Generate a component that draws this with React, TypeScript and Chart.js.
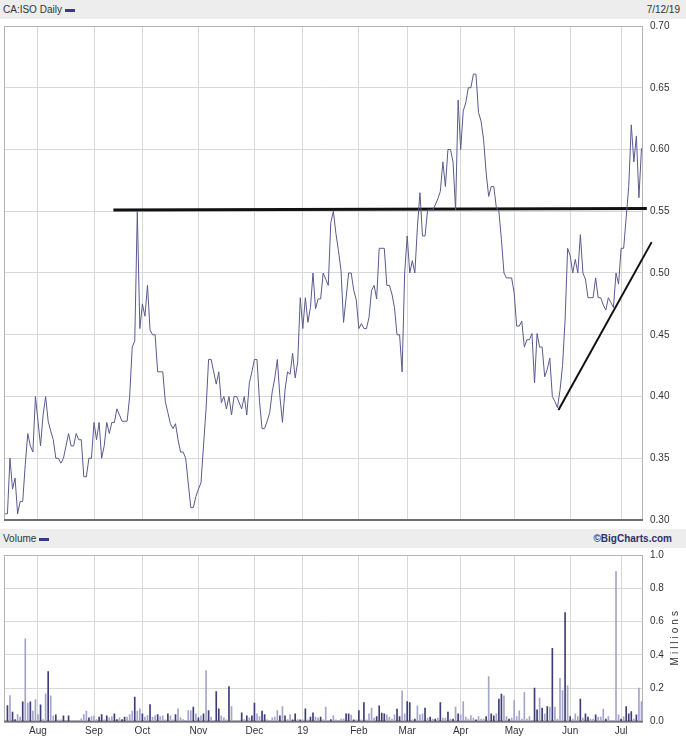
import React, { useEffect, useRef } from "react";
import { Chart, registerables } from "chart.js";
Chart.register(...registerables);

// ---- data ----
const monthTicks = [13, 35, 54, 76, 98, 117, 139, 158, 179, 200, 222, 242];
const monthLabels = ["Aug", "Sep", "Oct", "Nov", "Dec", "19", "Feb", "Mar", "Apr", "May", "Jun", "Jul"];
const priceTicks = [0.3, 0.35, 0.4, 0.45, 0.5, 0.55, 0.6, 0.65, 0.7];
const volumeTicks = [0, 0.2, 0.4, 0.6, 0.8, 1.0];

const prices = [
  0.305, 0.305, 0.35, 0.325, 0.334, 0.305, 0.315, 0.315, 0.345, 0.37,
  0.36, 0.355, 0.4, 0.38, 0.36, 0.385, 0.4, 0.38, 0.372, 0.365,
  0.35, 0.35, 0.346, 0.35, 0.36, 0.37, 0.36, 0.36, 0.37, 0.365,
  0.365, 0.335, 0.335, 0.35, 0.35, 0.379, 0.365, 0.379, 0.35, 0.36,
  0.379, 0.37, 0.379, 0.379, 0.39, 0.385, 0.38, 0.38, 0.38, 0.4,
  0.44, 0.445, 0.55, 0.455, 0.475, 0.465, 0.49, 0.454, 0.45, 0.45,
  0.42, 0.42, 0.42, 0.396, 0.387, 0.378, 0.374, 0.378, 0.365, 0.355,
  0.355, 0.35, 0.33, 0.31, 0.31, 0.319, 0.325, 0.33, 0.36, 0.39,
  0.43, 0.43, 0.42, 0.41, 0.42, 0.395, 0.4, 0.39, 0.4, 0.385,
  0.4, 0.4, 0.395, 0.39, 0.4, 0.385, 0.411, 0.42, 0.43, 0.43,
  0.396, 0.374, 0.374, 0.38, 0.387, 0.404, 0.415, 0.43, 0.4, 0.379,
  0.405, 0.42, 0.418, 0.435, 0.415, 0.428, 0.48, 0.455, 0.48, 0.46,
  0.472, 0.5, 0.471, 0.479, 0.479, 0.5, 0.495, 0.49, 0.541, 0.55,
  0.532, 0.518, 0.502, 0.46, 0.48, 0.5, 0.5, 0.486, 0.478, 0.455,
  0.459, 0.455, 0.455, 0.464, 0.486, 0.49, 0.479, 0.52, 0.52, 0.52,
  0.49, 0.49, 0.483, 0.472, 0.45, 0.45, 0.42, 0.5, 0.53, 0.5,
  0.51, 0.5, 0.537, 0.565, 0.53, 0.53, 0.551, 0.551, 0.551, 0.555,
  0.56, 0.566, 0.59, 0.57, 0.6, 0.6, 0.59, 0.551, 0.64, 0.6,
  0.631, 0.638, 0.65, 0.65, 0.661, 0.661, 0.63, 0.623, 0.608, 0.581,
  0.562, 0.57, 0.57, 0.553, 0.55, 0.527, 0.5, 0.496, 0.496, 0.496,
  0.484, 0.457, 0.457, 0.461, 0.44, 0.446, 0.446, 0.451, 0.411, 0.451,
  0.44, 0.44, 0.416, 0.422, 0.431, 0.4, 0.396, 0.391, 0.405, 0.425,
  0.462, 0.52, 0.514, 0.5, 0.511, 0.5, 0.531, 0.5, 0.495, 0.48,
  0.48, 0.48, 0.496, 0.48, 0.48, 0.474, 0.47, 0.48, 0.476, 0.472,
  0.5, 0.491, 0.52, 0.52, 0.545, 0.57, 0.62, 0.59, 0.611, 0.561,
  0.601,
];

const volumes = [
  0.004, 0.096, 0.156, 0.056, 0.012, 0.042, 0.026, 0.118, 0.496, 0.11,
  0.118, 0.062, 0.132, 0.042, 0.1, 0.012, 0.166, 0.3, 0.154, 0.034,
  0.04, 0.01, 0.01, 0.034, 0.004, 0.034, 0.004, 0.004, 0.004, 0.004,
  0.016, 0.042, 0.062, 0.022, 0.03, 0.034, 0.012, 0.026, 0.042, 0.01,
  0.034, 0.022, 0.03, 0.046, 0.012, 0.022, 0.012, 0.026, 0.026, 0.042,
  0.062, 0.146, 0.062, 0.076, 0.046, 0.026, 0.036, 0.102, 0.026, 0.036,
  0.042, 0.03, 0.034, 0.01, 0.046, 0.034, 0.01, 0.042, 0.076, 0.022,
  0.012, 0.004, 0.066, 0.066, 0.086, 0.046, 0.022, 0.034, 0.046, 0.306,
  0.066, 0.026, 0.004, 0.18, 0.076, 0.034, 0.022, 0.01, 0.21, 0.09,
  0.004, 0.004, 0.004, 0.052, 0.012, 0.034, 0.022, 0.034, 0.11, 0.046,
  0.03, 0.062, 0.042, 0.01, 0.004, 0.022, 0.026, 0.066, 0.034, 0.09,
  0.034, 0.012, 0.042, 0.01, 0.046, 0.012, 0.01, 0.01, 0.076, 0.01,
  0.026, 0.052, 0.026, 0.022, 0.026, 0.01, 0.086, 0.004, 0.012, 0.036,
  0.01, 0.004, 0.014, 0.014, 0.046, 0.046, 0.038, 0.01, 0.01, 0.066,
  0.01, 0.114, 0.01, 0.046, 0.08, 0.02, 0.03, 0.094, 0.05, 0.046,
  0.04, 0.026, 0.014, 0.04, 0.074, 0.03, 0.184, 0.046, 0.12, 0.114,
  0.01, 0.014, 0.094, 0.04, 0.046, 0.08, 0.02, 0.026, 0.014, 0.014,
  0.02, 0.114, 0.02, 0.02, 0.056, 0.014, 0.014, 0.086, 0.046, 0.04,
  0.12, 0.026, 0.014, 0.036, 0.02, 0.01, 0.03, 0.014, 0.014, 0.03,
  0.27, 0.046, 0.034, 0.046, 0.134, 0.164, 0.154, 0.03, 0.014, 0.02,
  0.126, 0.03, 0.064, 0.014, 0.174, 0.014, 0.03, 0.004, 0.2, 0.07,
  0.14, 0.08, 0.046, 0.09, 0.086, 0.44, 0.086, 0.014, 0.26, 0.186,
  0.654, 0.214, 0.03, 0.014, 0.046, 0.03, 0.134, 0.02, 0.046, 0.026,
  0.014, 0.014, 0.04, 0.026, 0.026, 0.074, 0.014, 0.03, 0.004, 0.004,
  0.9, 0.04, 0.014, 0.03, 0.09, 0.046, 0.06, 0.014, 0.04, 0.2,
  0.12,
];

// 1 = dark bar, 0 = light bar
const volumeDark = [
  0, 1, 0, 1, 1, 0, 0, 1, 0, 0,
  1, 0, 0, 0, 1, 0, 0, 1, 0, 0,
  1, 0, 0, 1, 0, 1, 0, 0, 0, 0,
  0, 0, 0, 1, 0, 0, 0, 1, 1, 0,
  1, 0, 0, 1, 1, 0, 1, 1, 0, 0,
  0, 1, 0, 0, 1, 0, 0, 1, 0, 0,
  1, 0, 0, 0, 1, 0, 0, 1, 0, 0,
  0, 0, 0, 0, 1, 0, 1, 0, 1, 0,
  1, 0, 0, 1, 1, 0, 0, 0, 1, 0,
  0, 0, 0, 1, 0, 1, 0, 1, 1, 0,
  0, 1, 1, 0, 0, 0, 0, 0, 1, 0,
  1, 0, 0, 1, 1, 0, 1, 0, 1, 0,
  1, 1, 0, 0, 1, 0, 0, 0, 1, 0,
  0, 0, 0, 0, 1, 1, 0, 1, 0, 1,
  0, 1, 0, 0, 0, 0, 1, 1, 1, 1,
  0, 0, 0, 0, 1, 1, 0, 0, 1, 1,
  0, 1, 0, 0, 0, 1, 0, 1, 0, 1,
  0, 1, 0, 0, 1, 0, 1, 0, 1, 0,
  0, 0, 0, 0, 0, 1, 0, 0, 0, 1,
  0, 1, 1, 0, 1, 1, 0, 0, 1, 0,
  0, 0, 0, 0, 0, 0, 0, 0, 1, 1,
  0, 1, 0, 1, 0, 1, 0, 0, 0, 0,
  1, 0, 1, 0, 0, 0, 1, 0, 1, 1,
  0, 0, 1, 0, 0, 0, 1, 0, 0, 0,
  0, 0, 1, 0, 1, 1, 1, 0, 1, 0,
  0,
];

// hand-drawn annotation lines (index, price)
const resistanceLine = [
  { x: 42.6, y: 0.551 },
  { x: 252.1, y: 0.5523 },
];
const supportLine = [
  { x: 217.4, y: 0.389 },
  { x: 254.0, y: 0.525 },
];

// ---- styles ----
const FONT = '"Liberation Sans", Arial, sans-serif';
const GRID = "#d8d8d8";
const TEXT = "#333333";
const X_MIN = -0.35;
const X_MAX = 250.6;

const framePlugin = {
  id: "frame",
  beforeDatasetsDraw(chart: any) {
    const { ctx, chartArea: a } = chart;
    ctx.save();
    ctx.strokeStyle = "#b4b4b4";
    ctx.lineWidth = 1;
    ctx.strokeRect(a.left + 0.5, a.top + 0.5, a.right - a.left - 1, a.bottom - a.top);
    ctx.strokeStyle = "#6e6e6e";
    ctx.lineWidth = 2;
    ctx.beginPath();
    ctx.moveTo(a.left, a.bottom);
    ctx.lineTo(a.right, a.bottom);
    ctx.stroke();
    ctx.restore();
  },
};

const millionsPlugin = {
  id: "millions",
  afterDraw(chart: any) {
    const { ctx, chartArea: a } = chart;
    const word = "Millions";
    ctx.save();
    ctx.translate(675, (a.top + a.bottom) / 2);
    ctx.rotate(-Math.PI / 2);
    ctx.font = `10px ${FONT}`;
    ctx.fillStyle = TEXT;
    ctx.textBaseline = "middle";
    const spacing = 3;
    let total = 0;
    const widths = word.split("").map((ch) => ctx.measureText(ch).width);
    widths.forEach((w) => (total += w));
    total += spacing * (word.length - 1);
    let x = -total / 2;
    word.split("").forEach((ch, i) => {
      ctx.fillText(ch, x, 0);
      x += widths[i] + spacing;
    });
    ctx.restore();
  },
};

export default function App() {
  const priceRef = useRef<HTMLCanvasElement>(null);
  const volRef = useRef<HTMLCanvasElement>(null);

  useEffect(() => {
    const tickFont = { family: FONT, size: 10 };

    const priceChart = new Chart(priceRef.current as HTMLCanvasElement, {
      type: "line",
      data: {
        datasets: [
          {
            data: prices.map((p, i) => ({ x: i, y: p })),
            borderColor: "#5a5a8e",
            borderWidth: 1,
            pointRadius: 0,
            tension: 0,
          },
          {
            data: resistanceLine,
            borderColor: "#111111",
            borderWidth: 3,
            pointRadius: 0,
            clip: false as any,
          },
          {
            data: supportLine,
            borderColor: "#111111",
            borderWidth: 2,
            pointRadius: 0,
            clip: false as any,
          },
        ],
      },
      options: {
        animation: false,
        responsive: false,
        events: [],
        layout: { padding: { left: 4, top: 26, right: 0, bottom: 0 } },
        plugins: { legend: { display: false }, tooltip: { enabled: false } },
        scales: {
          x: {
            type: "linear",
            min: X_MIN,
            max: X_MAX,
            afterBuildTicks: (s: any) => {
              s.ticks = monthTicks.map((v) => ({ value: v }));
            },
            afterFit: (s: any) => {
              s.height = 7;
            },
            ticks: { display: false, autoSkip: false },
            grid: { color: GRID, drawTicks: false },
            border: { display: false },
          },
          y: {
            position: "right",
            min: 0.3,
            max: 0.7,
            afterBuildTicks: (s: any) => {
              s.ticks = priceTicks.map((v) => ({ value: v }));
            },
            afterFit: (s: any) => {
              s.width = 43;
            },
            ticks: {
              font: tickFont,
              color: TEXT,
              padding: 7,
              callback: (v: any) => Number(v).toFixed(2),
            },
            grid: { color: GRID, drawTicks: false },
            border: { display: false },
          },
        },
      },
      plugins: [framePlugin],
    } as any);

    const volChart = new Chart(volRef.current as HTMLCanvasElement, {
      type: "bar",
      data: {
        datasets: [
          {
            data: volumes.map((v, i) => ({ x: i, y: v })),
            backgroundColor: volumeDark.map((d) => (d ? "#3e3e76" : "#a4a4cc")),
            borderWidth: 0,
            barThickness: 1,
          },
        ],
      },
      options: {
        animation: false,
        responsive: false,
        events: [],
        layout: { padding: { left: 4, top: 30, right: 0, bottom: 0 } },
        plugins: { legend: { display: false }, tooltip: { enabled: false } },
        scales: {
          x: {
            type: "linear",
            min: X_MIN,
            max: X_MAX,
            offset: false,
            afterBuildTicks: (s: any) => {
              s.ticks = monthTicks.map((v) => ({ value: v }));
            },
            afterFit: (s: any) => {
              s.height = 18.5;
            },
            ticks: {
              autoSkip: false,
              maxRotation: 0,
              font: tickFont,
              color: TEXT,
              padding: 4,
              callback: (v: any) => {
                const k = monthTicks.indexOf(Number(v));
                return k >= 0 ? monthLabels[k] : "";
              },
            },
            grid: { color: GRID, drawTicks: false, offset: false },
            border: { display: false },
          },
          y: {
            position: "right",
            min: 0,
            max: 1,
            afterBuildTicks: (s: any) => {
              s.ticks = volumeTicks.map((v) => ({ value: v }));
            },
            afterFit: (s: any) => {
              s.width = 43;
            },
            ticks: {
              font: tickFont,
              color: TEXT,
              padding: 7,
              callback: (v: any) => Number(v).toFixed(1),
            },
            grid: { color: GRID, drawTicks: false },
            border: { display: false },
          },
        },
      },
      plugins: [framePlugin, millionsPlugin],
    } as any);

    return () => {
      priceChart.destroy();
      volChart.destroy();
    };
  }, []);

  const bandStyle: React.CSSProperties = {
    position: "absolute",
    left: 0,
    width: 686,
    height: 19,
    background: "#ededed",
    fontFamily: FONT,
    fontSize: 10,
    color: TEXT,
    lineHeight: "19px",
  };
  const swatch: React.CSSProperties = {
    display: "inline-block",
    width: 10,
    height: 3,
    background: "#3a3a84",
    marginLeft: 3,
    verticalAlign: "middle",
  };

  return (
    <div
      style={{
        position: "absolute",
        left: 0,
        top: 0,
        width: 686,
        height: 740,
        background: "#ffffff",
        overflow: "hidden",
      }}
    >
      <div style={{ ...bandStyle, top: 0 }}>
        <span style={{ position: "absolute", left: 3 }}>
          CA:ISO Daily<span style={swatch} />
        </span>
        <span style={{ position: "absolute", right: 6 }}>7/12/19</span>
      </div>
      <canvas
        ref={priceRef}
        width={686}
        height={533}
        style={{ position: "absolute", left: 0, top: 0, width: 686, height: 533 }}
      />
      <div style={{ ...bandStyle, top: 529 }}>
        <span style={{ position: "absolute", left: 3 }}>
          Volume<span style={swatch} />
        </span>
        <span
          style={{
            position: "absolute",
            right: 14,
            color: "#2f2f6e",
            fontWeight: "bold",
          }}
        >
          ©BigCharts.com
        </span>
      </div>
      <canvas
        ref={volRef}
        width={686}
        height={215}
        style={{ position: "absolute", left: 0, top: 525, width: 686, height: 215 }}
      />
    </div>
  );
}
